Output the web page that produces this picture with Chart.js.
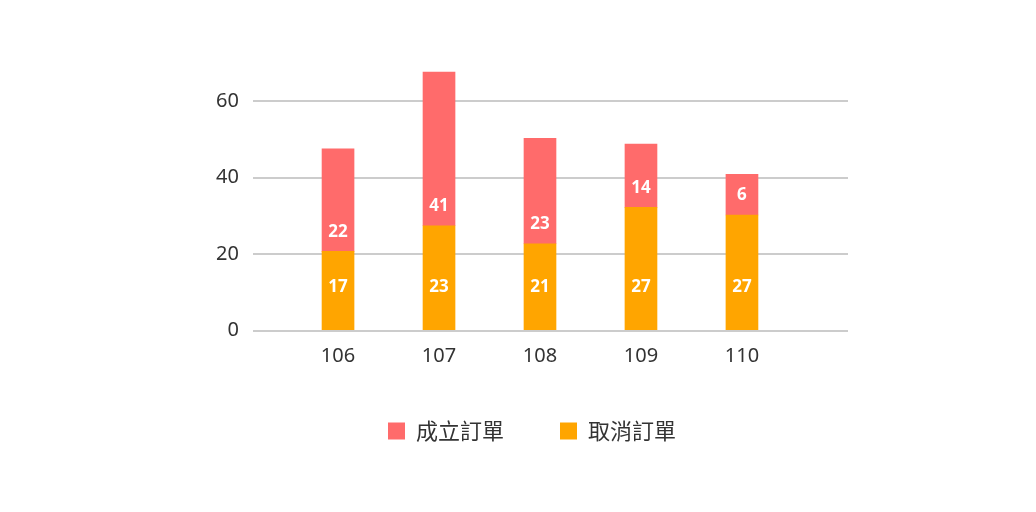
<!DOCTYPE html>
<html><head><meta charset="utf-8">
<script src="https://cdn.jsdelivr.net/npm/chart.js@4"></script>
<style>html,body{margin:0;padding:0;background:#fff}#wrap{width:1036px;height:512px}</style>
</head><body><div id="wrap"><canvas id="c" width="1036" height="512"></canvas></div>
<script>
const categories = ['106', '107', '108', '109', '110'];
const cancelValues = [20.7, 27.4, 22.7, 32.2, 30.2];
const orderValues = [26.8, 40.1, 27.5, 16.5, 10.6];
const cancelLabels = ['17', '23', '21', '27', '27'];
const orderLabels = ['22', '41', '23', '14', '6'];
const yTicks = [0, 20, 40, 60];
const seriesNames = ['成立訂單', '取消訂單'];

const segLabels = {
  id: 'segLabels',
  afterDatasetsDraw(chart) {
    const ctx = chart.ctx;
    ctx.save();
    ctx.font = 'bold 17px "Noto Sans"';
    ctx.fillStyle = '#ffffff';
    ctx.textAlign = 'center';
    ctx.textBaseline = 'middle';
    chart.getDatasetMeta(0).data.forEach((el, i) => ctx.fillText(cancelLabels[i], el.x, el.base - 42.5));
    chart.getDatasetMeta(1).data.forEach((el, i) => ctx.fillText(orderLabels[i], el.x, el.base - 19.5));
    ctx.restore();
  }
};

new Chart(document.getElementById('c'), {
  type: 'bar',
  data: {
    datasets: [
      { label: seriesNames[1], data: categories.map((c, i) => ({ x: +c, y: cancelValues[i] })), backgroundColor: '#FFA500', barThickness: 32 },
      { label: seriesNames[0], data: categories.map((c, i) => ({ x: +c, y: orderValues[i] })), backgroundColor: '#FF6B6B', barThickness: 32 }
    ]
  },
  options: {
    responsive: false,
    animation: false,
    layout: { padding: { left: 28, right: 0, top: 62.6, bottom: 60 } },
    plugins: {
      tooltip: { enabled: false },
      legend: {
        position: 'bottom',
        labels: {
          boxWidth: 17, boxHeight: 17, padding: 56,
          color: '#333', font: { size: 22, family: '"Noto Sans CJK TC"' },
          sort: (a, b) => b.datasetIndex - a.datasetIndex
        }
      }
    },
    scales: {
      x: {
        type: 'linear', stacked: true, offset: false, min: 105.158, max: 111.05,
        grid: { display: false, drawTicks: false }, border: { display: false },
        afterBuildTicks: s => { s.ticks = categories.map(v => ({ value: +v })); },
        afterFit: s => { s.height = 33.3; },
        ticks: { padding: 14, color: '#333', font: { size: 20, family: '"Noto Sans"' }, callback: v => String(v) }
      },
      y: {
        stacked: true, min: 0, max: 70, position: 'left',
        afterBuildTicks: s => { s.ticks = yTicks.map(v => ({ value: v })); },
        afterFit: s => { s.width = 225; },
        grid: { color: '#cccccc', lineWidth: 2, drawTicks: false }, border: { display: false },
        ticks: { padding: 14, color: '#333', font: { size: 20, family: '"Noto Sans"' } }
      },
      yr: {
        position: 'right', min: 0, max: 70,
        grid: { display: false, drawTicks: false }, border: { display: false },
        ticks: { display: false },
        afterFit: s => { s.width = 188; }
      }
    }
  },
  plugins: [segLabels]
});
</script></body></html>
